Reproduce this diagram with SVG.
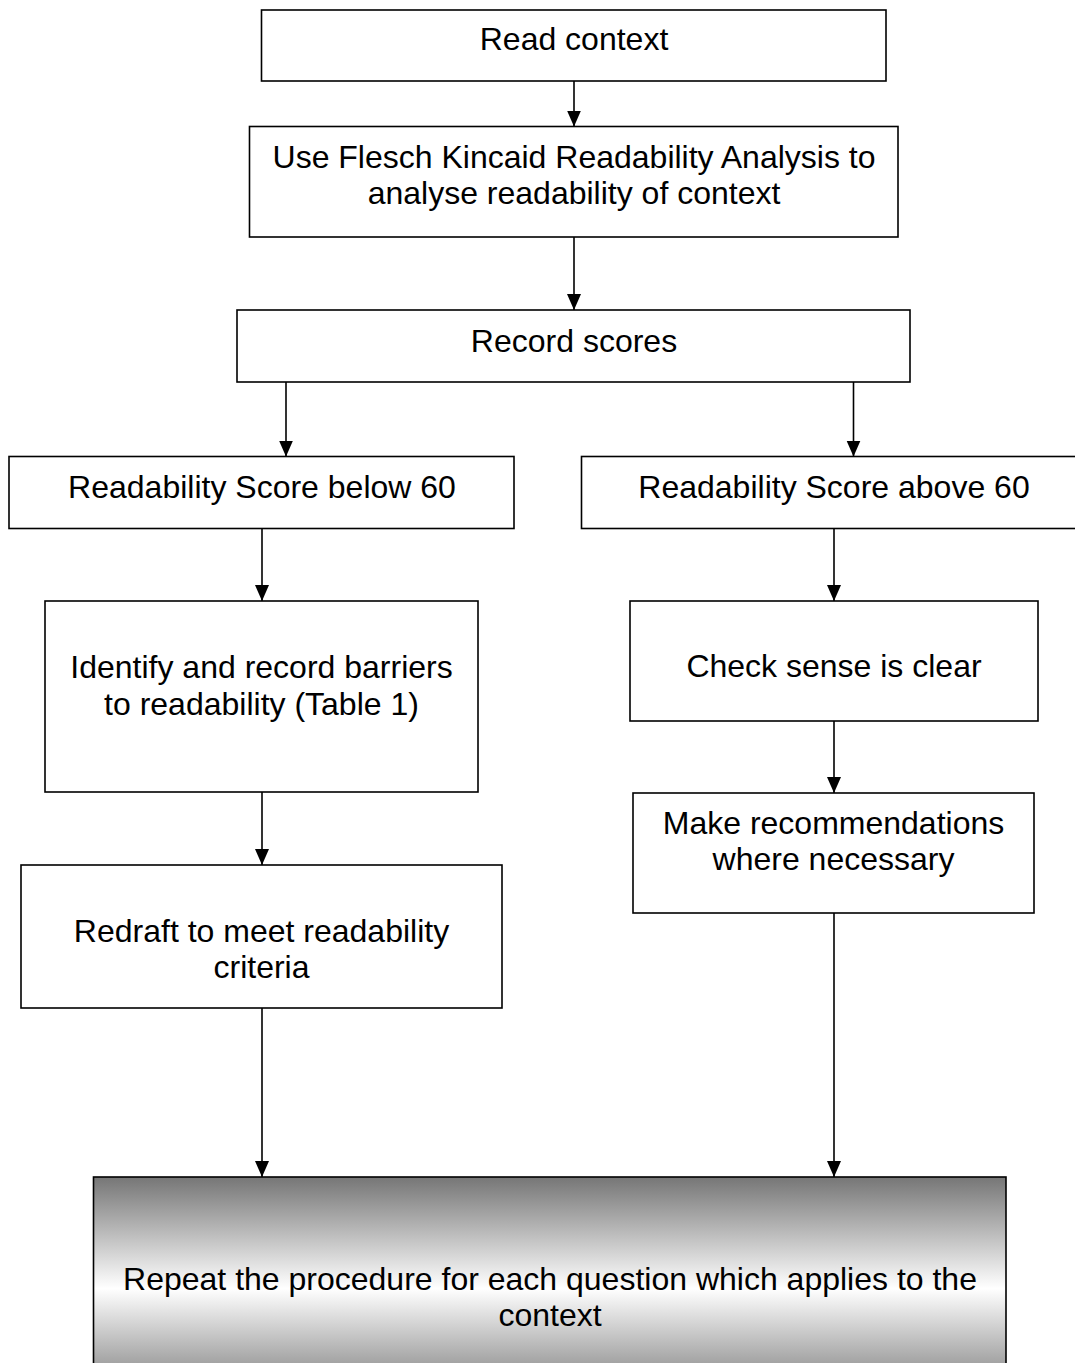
<svg xmlns="http://www.w3.org/2000/svg" width="1075" height="1363" viewBox="0 0 1075 1363">
<style>
.box{fill:#fff;stroke:#000;stroke-width:1.6}
.grad{fill:url(#g);stroke:#000;stroke-width:1.6}
.t{font-family:"Liberation Sans",Arial,sans-serif;font-size:32px;fill:#000;text-anchor:middle}
.c{stroke:#000;stroke-width:1.6;fill:none;marker-end:url(#ah)}
</style>
<defs>
<marker id="ah" markerUnits="userSpaceOnUse" markerWidth="16" markerHeight="16" viewBox="0 0 16 16" refX="16" refY="8" orient="auto">
<path d="M0,1 L16,8 L0,15 Z" fill="#000"/>
</marker>
<linearGradient id="g" gradientUnits="userSpaceOnUse" x1="0" y1="1177" x2="0" y2="1400">
<stop offset="0" stop-color="#767676"/>
<stop offset="0.5" stop-color="#ffffff"/>
<stop offset="1" stop-color="#767676"/>
</linearGradient>
</defs>
<rect width="1075" height="1363" fill="#fff"/>
<g id="connectors">
<line class="c" x1="574" y1="81" x2="574" y2="126.5"/>
<line class="c" x1="574" y1="237" x2="574" y2="310"/>
<line class="c" x1="286" y1="382" x2="286" y2="456.5"/>
<line class="c" x1="853.5" y1="382" x2="853.5" y2="456.5"/>
<line class="c" x1="262" y1="528.5" x2="262" y2="601"/>
<line class="c" x1="834" y1="528.5" x2="834" y2="601"/>
<line class="c" x1="834" y1="721" x2="834" y2="793"/>
<line class="c" x1="262" y1="792" x2="262" y2="865"/>
<line class="c" x1="262" y1="1008" x2="262" y2="1177"/>
<line class="c" x1="834" y1="913" x2="834" y2="1177"/>
</g>
<g id="n1"><rect class="box" x="261.5" y="10" width="624.5" height="71"/><text class="t" x="574" y="50">Read context</text></g>
<g id="n2"><rect class="box" x="249.5" y="126.5" width="648.5" height="110.5"/><text class="t" x="574" y="168">Use Flesch Kincaid Readability Analysis to</text><text class="t" x="574" y="204">analyse readability of context</text></g>
<g id="n3"><rect class="box" x="237" y="310" width="673" height="72"/><text class="t" x="574" y="352">Record scores</text></g>
<g id="n4"><rect class="box" x="9" y="456.5" width="505" height="72"/><text class="t" x="262" y="498">Readability Score below 60</text></g>
<g id="n5"><rect class="box" x="581.5" y="456.5" width="510" height="72"/><text class="t" x="834" y="498">Readability Score above 60</text></g>
<g id="n6"><rect class="box" x="45" y="601" width="433" height="191"/><text class="t" x="261.5" y="678">Identify and record barriers</text><text class="t" x="261.5" y="715">to readability (Table 1)</text></g>
<g id="n7"><rect class="box" x="630" y="601" width="408" height="120"/><text class="t" x="834" y="677">Check sense is clear</text></g>
<g id="n8"><rect class="box" x="633" y="793" width="401" height="120"/><text class="t" x="833.5" y="834">Make recommendations</text><text class="t" x="833.5" y="870">where necessary</text></g>
<g id="n9"><rect class="box" x="21" y="865" width="481" height="143"/><text class="t" x="261.5" y="942">Redraft to meet readability</text><text class="t" x="261.5" y="978">criteria</text></g>
<g id="n10"><rect class="grad" x="93.5" y="1177" width="912.5" height="223"/><text class="t" x="550" y="1290">Repeat the procedure for each question which applies to the</text><text class="t" x="550" y="1326">context</text></g>
</svg>
